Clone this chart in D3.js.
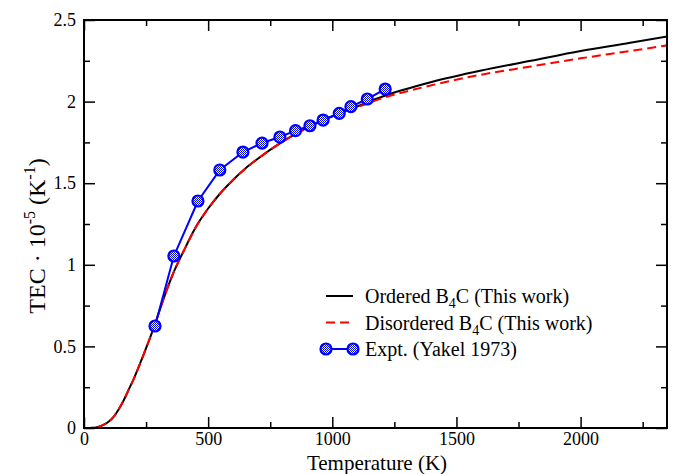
<!DOCTYPE html>
<html>
<head>
<meta charset="utf-8">
<script src="https://cdn.jsdelivr.net/npm/d3@7"></script>
<style>
  html, body { margin: 0; padding: 0; background: #fff; }
  svg { display: block; }
  svg text { font-family: 'Liberation Serif', 'Times New Roman', Times, 'DejaVu Serif', 'Noto Serif', serif; fill: #000; }
</style>
</head>
<body>
<svg id="chart" width="674" height="474"></svg>
<script>
// ---- data ----
const orderedT = [0, 40, 60, 80, 100, 120, 140, 160, 180, 200, 240, 280, 320, 360, 400, 450, 500, 550, 600, 650, 700, 800, 900, 1000, 1100, 1200, 1400, 1600, 1800, 2000, 2200, 2350];
const orderedV = [0, 0.002, 0.008, 0.02, 0.04, 0.07, 0.115, 0.17, 0.235, 0.30, 0.45, 0.61, 0.79, 0.95, 1.08, 1.23, 1.345, 1.44, 1.52, 1.59, 1.65, 1.755, 1.84, 1.91, 1.97, 2.03, 2.12, 2.19, 2.25, 2.31, 2.36, 2.40];
const disorderedT = [0, 40, 60, 80, 100, 120, 140, 160, 180, 200, 240, 280, 320, 360, 400, 450, 500, 550, 600, 650, 700, 800, 900, 1000, 1100, 1200, 1400, 1600, 1800, 2000, 2200, 2350];
const disorderedV = [0, 0.002, 0.008, 0.02, 0.04, 0.07, 0.115, 0.17, 0.235, 0.30, 0.45, 0.61, 0.79, 0.95, 1.08, 1.23, 1.345, 1.44, 1.52, 1.59, 1.65, 1.755, 1.84, 1.91, 1.965, 2.02, 2.10, 2.165, 2.215, 2.265, 2.31, 2.345];
const exptT = [286, 362, 459, 547, 640, 717, 789, 852, 910, 963, 1028, 1075, 1141, 1213];
const exptV = [0.625, 1.054, 1.391, 1.581, 1.691, 1.746, 1.783, 1.822, 1.852, 1.887, 1.928, 1.969, 2.016, 2.077];
const xTicks = [0, 500, 1000, 1500, 2000];
const yTicks = [0, 0.5, 1, 1.5, 2, 2.5];
const xMinorTicks = [250, 750, 1250, 1750, 2250];
const yMinorTicks = [0.25, 0.75, 1.25, 1.75, 2.25];

// ---- layout ----
const FONT = "'Liberation Serif', 'Times New Roman', Times, 'DejaVu Serif', serif";
const svg = d3.select("#chart");
const L = 84, R = 667, T = 20, B = 428;
const x = d3.scaleLinear().domain([0, 2348]).range([L, R]);
const y = d3.scaleLinear().domain([0, 2.5]).range([B, T]);

// pattern for experimental markers
const defs = svg.append("defs");
const pat = defs.append("pattern").attr("id", "chk").attr("patternUnits", "userSpaceOnUse")
  .attr("width", 2).attr("height", 2);
pat.append("rect").attr("width", 2).attr("height", 2).attr("fill", "#ffffff");
pat.append("rect").attr("width", 1).attr("height", 1).attr("fill", "#0000ff");
pat.append("rect").attr("x", 1).attr("y", 1).attr("width", 1).attr("height", 1).attr("fill", "#0000ff");

const plot = svg.append("g");
const clip = defs.append("clipPath").attr("id", "clip");
clip.append("rect").attr("x", L).attr("y", T).attr("width", R - L).attr("height", B - T);

// lines
const line = d3.line().x(d => x(d[0])).y(d => y(d[1])).curve(d3.curveMonotoneX);
plot.append("path").attr("clip-path", "url(#clip)")
  .datum(orderedT.map((t, i) => [t, orderedV[i]]))
  .attr("d", line).attr("fill", "none").attr("stroke", "#000").attr("stroke-width", 2);
plot.append("path").attr("clip-path", "url(#clip)")
  .datum(disorderedT.map((t, i) => [t, disorderedV[i]]))
  .attr("d", line).attr("fill", "none").attr("stroke", "#ff0000").attr("stroke-width", 2)
  .attr("stroke-dasharray", "9,5");

const exData = exptT.map((t, i) => [t, exptV[i]]);
plot.append("path").datum(exData)
  .attr("d", d3.line().x(d => x(d[0])).y(d => y(d[1])))
  .attr("fill", "none").attr("stroke", "#0000ff").attr("stroke-width", 2);
plot.selectAll("circle.ex").data(exData).join("circle").attr("class", "ex")
  .attr("cx", d => x(d[0])).attr("cy", d => y(d[1])).attr("r", 5.5)
  .attr("fill", "url(#chk)").attr("stroke", "#0000ff").attr("stroke-width", 2.2);

// axes (ticks inside)
function axisTicks(axisGen, tr) {
  return svg.append("g").attr("transform", tr).call(axisGen);
}
const fontSize = 18;
axisTicks(d3.axisBottom(x).tickValues(xTicks).tickSize(-11).tickPadding(4).tickFormat(d3.format("d")), `translate(0,${B})`);
axisTicks(d3.axisBottom(x).tickValues(xMinorTicks).tickSize(-6).tickFormat(""), `translate(0,${B})`);
axisTicks(d3.axisTop(x).tickValues(xTicks).tickSize(-11).tickFormat(""), `translate(0,${T})`);
axisTicks(d3.axisTop(x).tickValues(xMinorTicks).tickSize(-6).tickFormat(""), `translate(0,${T})`);
axisTicks(d3.axisLeft(y).tickValues(yTicks).tickSize(-11).tickPadding(8).tickFormat(d => d3.format("")(d)), `translate(${L},0)`);
axisTicks(d3.axisLeft(y).tickValues(yMinorTicks).tickSize(-6).tickFormat(""), `translate(${L},0)`);
axisTicks(d3.axisRight(y).tickValues(yTicks).tickSize(-11).tickFormat(""), `translate(${R},0)`);
axisTicks(d3.axisRight(y).tickValues(yMinorTicks).tickSize(-6).tickFormat(""), `translate(${R},0)`);
svg.selectAll(".domain").remove();
svg.selectAll("g").attr("font-family", FONT);
svg.selectAll(".tick line").attr("stroke", "#000").attr("stroke-width", 1.5);
svg.selectAll(".tick text").attr("font-family", FONT).attr("font-size", fontSize).attr("fill", "#000");
// frame
svg.append("rect").attr("x", L).attr("y", T).attr("width", R - L).attr("height", B - T)
  .attr("fill", "none").attr("stroke", "#000").attr("stroke-width", 2);

// axis titles
svg.append("text").attr("x", 377).attr("y", 469.5).attr("text-anchor", "middle")
  .attr("font-family", FONT).attr("font-size", 21).text("Temperature (K)");
const yt = svg.append("text").attr("transform", `translate(45,236) rotate(-90)`)
  .attr("text-anchor", "middle").attr("font-family", FONT).attr("font-size", 24);
yt.append("tspan").text("TEC · 10");
yt.append("tspan").attr("font-size", 16).attr("dy", -10).text("-5");
yt.append("tspan").attr("dy", 10).text(" (K");
yt.append("tspan").attr("font-size", 16).attr("dy", -10).text("-1");
yt.append("tspan").attr("dy", 10).text(")");

// legend
const lg = svg.append("g");
const lx0 = 326, lx1 = 353, tx = 365;
const rows = [
  { y: 296, parts: ["Ordered B", "4", "C (This work)"] },
  { y: 322.5, parts: ["Disordered B", "4", "C (This work)"] },
  { y: 349, parts: ["Expt. (Yakel 1973)"] }
];
lg.append("line").attr("x1", lx0).attr("x2", lx1).attr("y1", rows[0].y).attr("y2", rows[0].y)
  .attr("stroke", "#000").attr("stroke-width", 2);
lg.append("line").attr("x1", lx0).attr("x2", lx1).attr("y1", rows[1].y).attr("y2", rows[1].y)
  .attr("stroke", "#ff0000").attr("stroke-width", 2).attr("stroke-dasharray", "9,5");
lg.append("line").attr("x1", lx0).attr("x2", lx1).attr("y1", rows[2].y).attr("y2", rows[2].y)
  .attr("stroke", "#0000ff").attr("stroke-width", 2);
[lx0, lx1].forEach(cx => lg.append("circle").attr("cx", cx).attr("cy", rows[2].y).attr("r", 5.5)
  .attr("fill", "url(#chk)").attr("stroke", "#0000ff").attr("stroke-width", 2.2));
rows.forEach(r => {
  const t = lg.append("text").attr("x", tx).attr("y", r.y + 7).attr("font-family", FONT).attr("font-size", 20);
  if (r.parts.length === 1) { t.text(r.parts[0]); return; }
  t.append("tspan").text(r.parts[0]);
  t.append("tspan").attr("font-size", 14).attr("dy", 5).text(r.parts[1]);
  t.append("tspan").attr("dy", -5).text(r.parts[2]);
});
</script>
</body>
</html>
